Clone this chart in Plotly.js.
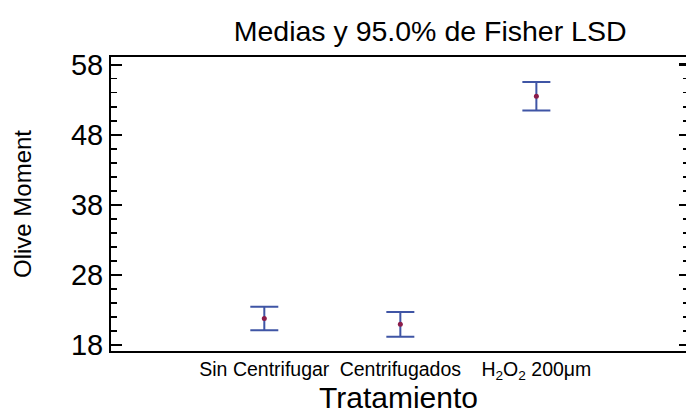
<!DOCTYPE html>
<html>
<head>
<meta charset="utf-8">
<script src="https://cdn.plot.ly/plotly-3.0.1.min.js"></script>
<style>
html,body{margin:0;padding:0;overflow:hidden;background:#fff;}
#chart{width:686px;height:414px;}
</style>
</head>
<body>
<div id="chart"></div>
<script>
const categories = ['Sin Centrifugar', 'Centrifugados', 'H<sub>2</sub>O<sub>2</sub> 200μm'];
const means = [21.77, 20.95, 53.5];
const lsdHalf = [1.67, 1.76, 2.03];
const yTickVals = [18, 28, 38, 48, 58];

const font = 'Liberation Sans, Arial, sans-serif';

const trace = {
  type: 'scatter',
  mode: 'markers',
  x: categories,
  y: means,
  marker: {color: '#8b1c4a', size: 5},
  error_y: {
    type: 'data',
    array: lsdHalf,
    visible: true,
    color: '#3f55a5',
    thickness: 2,
    width: 14
  },
  hoverinfo: 'skip'
};

// carrier for the right-hand mirrored tick axis (drawn invisible)
const rightAxisTrace = {
  type: 'scatter',
  mode: 'markers',
  x: categories,
  y: means,
  yaxis: 'y2',
  marker: {opacity: 0, size: 1},
  hoverinfo: 'skip'
};

const layout = {
  width: 686,
  height: 414,
  margin: {l: 111, r: 0, t: 57, b: 63},
  paper_bgcolor: '#fff',
  plot_bgcolor: '#fff',
  showlegend: false,
  font: {family: font, color: '#000'},
  title: {
    text: 'Medias y 95.0% de Fisher LSD',
    font: {size: 28.5, family: font, color: '#000'},
    xref: 'container', x: 0.627, xanchor: 'center',
    yref: 'container', y: 0.925, yanchor: 'middle'
  },
  xaxis: {
    type: 'category',
    range: [-1.127, 3.1],
    showline: true, linecolor: '#000', linewidth: 2,
    mirror: true,
    ticks: '',
    showgrid: false, zeroline: false,
    tickfont: {size: 19.5, family: font, color: '#000'},
    title: {text: 'Tratamiento', font: {size: 30, family: font, color: '#000'}, standoff: 8}
  },
  yaxis: {
    range: [17.14, 59.1],
    tickvals: yTickVals,
    ticktext: yTickVals.map(String),
    showline: true, linecolor: '#000', linewidth: 2,
    ticks: 'inside', ticklen: 11, tickwidth: 2, tickcolor: '#000',
    minor: {dtick: 2, tick0: 18, ticks: 'inside', ticklen: 6, tickwidth: 1.5, tickcolor: '#000', showgrid: false},
    showgrid: false, zeroline: false,
    tickfont: {size: 29, family: font, color: '#000'},
    title: {text: 'Olive Moment', font: {size: 24, family: font, color: '#000'}, standoff: 33}
  },
  yaxis2: {
    overlaying: 'y',
    side: 'right',
    range: [17.14, 59.1],
    tickvals: yTickVals,
    showticklabels: false,
    showline: false,
    ticks: 'inside', ticklen: 7, tickwidth: 2.5, tickcolor: '#000',
    minor: {dtick: 2, tick0: 18, ticks: 'inside', ticklen: 3, tickwidth: 1.5, tickcolor: '#000', showgrid: false},
    showgrid: false, zeroline: false
  }
};

Plotly.newPlot('chart', [trace, rightAxisTrace], layout, {displayModeBar: false, staticPlot: true});
</script>
</body>
</html>
